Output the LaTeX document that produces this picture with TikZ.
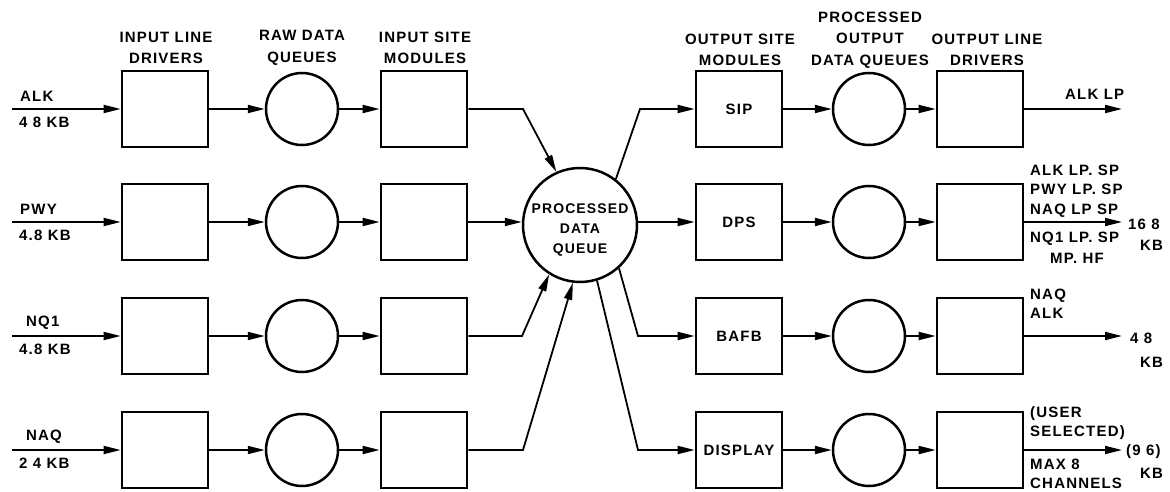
\documentclass[tikz,border=0pt]{standalone}
\usepackage{fontspec}
\setmainfont{Liberation Sans}[LetterSpace=8.0]
\usetikzlibrary{arrows.meta,calc}
\begin{document}
\begin{tikzpicture}[x=1pt,y=-1pt,
  box/.style={draw,line width=2.6pt,minimum width=86pt,minimum height=76pt,inner sep=0pt},
  queue/.style={circle,draw,line width=2.5pt,minimum size=72pt,inner sep=0pt},
  txt/.style={inner sep=0pt,font=\fontsize{15}{19.5}\selectfont\bfseries},
  hdr/.style={inner sep=0pt,align=center,font=\fontsize{15}{21.5}\selectfont\bfseries},
  arr/.style={line width=1.8pt,-{Triangle[length=17pt,width=8pt]}},
  ln/.style={line width=1.8pt}]
\useasboundingbox (0,0) rectangle (1170,492);
% headers
\node[hdr] (h1) at (166,48) {INPUT LINE\\DRIVERS};
\node[hdr] (h2) at (302,48) {RAW DATA\\QUEUES};
\node[hdr] (h3) at (425,48) {INPUT SITE\\MODULES};
\node[hdr] (h4) at (740,50) {OUTPUT SITE\\MODULES};
\node[hdr] (h5) at (870,40) {PROCESSED\\OUTPUT\\DATA QUEUES};
\node[hdr] (h6) at (987,50) {OUTPUT LINE\\DRIVERS};
% rows
\foreach \i/\r/\o in {1/109/SIP,2/222/DPS,3/336/BAFB,4/450/DISPLAY}{
  \coordinate (in\i) at (12,\r);
  \node[box] (ild\i) at (165,\r) {};
  \node[queue] (q\i) at (302,\r) {};
  \node[box] (ism\i) at (424,\r) {};
  \node[box,txt] (osm\i) at (739,\r) {\o};
  \node[queue] (oq\i) at (869,\r) {};
  \node[box] (old\i) at (980,\r) {};
  \coordinate (out\i) at (1122,\r);
  \draw[arr] (in\i) -- (ild\i.west);
  \draw[arr] (ild\i.east) -- (q\i.west);
  \draw[arr] (q\i.east) -- (ism\i.west);
  \draw[arr] (osm\i.east) -- (oq\i.west);
  \draw[arr] (oq\i.east) -- (old\i.west);
  \draw[arr] (old\i.east) -- (out\i);
}
% central queue
\node[circle,draw,line width=2.5pt,minimum size=114pt,inner sep=0pt] (pdq) at (580,225) {};
\node[txt,align=center,font=\fontsize{14}{20}\selectfont\bfseries] (pdqt) at (580,230) {PROCESSED\\DATA\\QUEUE};
% bends
\coordinate (b1) at (523,109);
\coordinate (b3) at (522,336);
\coordinate (b4) at (523,450);
\coordinate (c1) at (640,109);
\coordinate (c3) at (638,336);
\coordinate (c4) at (638,450);
\draw[arr] (ism1.east) -- (b1) -- (pdq.114);
\draw[arr] (ism2.east) -- (ism2.east -| pdq.west);
\draw[arr] (ism3.east) -- (b3) -- (pdq.238);
\draw[arr] (ism4.east) -- (b4) -- (pdq.263);
\draw[arr] (pdq.52) -- (c1) -- (osm1.west);
\draw[arr] (pdq.east |- osm2) -- (osm2.west);
\draw[arr] (pdq.-48) -- (c3) -- (osm3.west);
\draw[arr] (pdq.-73) -- (c4) -- (osm4.west);
% input labels
\node[txt,anchor=west] (l1a) at (20,96) {ALK};
\node[txt,anchor=west] (l1b) at (19,122) {4 8 KB};
\node[txt,anchor=west] (l2a) at (20,209) {PWY};
\node[txt,anchor=west] (l2b) at (19,235) {4.8 KB};
\node[txt,anchor=west] (l3a) at (26,323) {NQ1};
\node[txt,anchor=west] (l3b) at (19,349) {4.8 KB};
\node[txt,anchor=west] (l4a) at (26,437) {NAQ};
\node[txt,anchor=west] (l4b) at (19,463) {2 4 KB};
% output labels
\node[txt,anchor=west] (r1) at (1065,94) {ALK LP};
\node[txt,anchor=west,align=left] (r2a) at (1030,191) {ALK LP. SP\\PWY LP. SP\\NAQ LP SP};
\node[txt,anchor=west] (r2b) at (1030,239) {NQ1 LP. SP};
\node[txt,anchor=west] (r2c) at (1050,258) {MP. HF};
\node[txt,anchor=west] (r2d) at (1128,224) {16 8};
\node[txt,anchor=west] (r2e) at (1140,245) {KB};
\node[txt,anchor=west,align=left] (r3a) at (1030,304) {NAQ\\ALK};
\node[txt,anchor=west] (r3b) at (1130,338) {4 8};
\node[txt,anchor=west] (r3c) at (1140,362) {KB};
\node[txt,anchor=west,align=left] (r4a) at (1030,423) {(USER\\SELECTED)};
\node[txt,anchor=west,align=left] (r4b) at (1030,474) {MAX 8\\CHANNELS};
\node[txt,anchor=west] (r4c) at (1126,452) {(9 6)};
\node[txt,anchor=west] (r4d) at (1140,473) {KB};
\end{tikzpicture}
\end{document}
